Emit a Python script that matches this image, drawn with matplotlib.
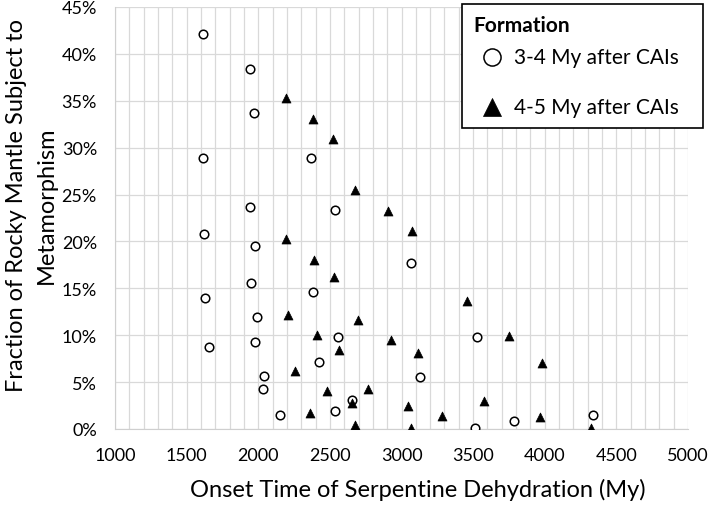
import matplotlib
matplotlib.use("Agg")
import matplotlib.pyplot as plt
from matplotlib.ticker import MultipleLocator, FuncFormatter

plt.rcParams["font.family"] = ["Lato", "DejaVu Sans"]

# 3-4 My after CAIs (onset time in My, fraction in %)
early_time = [1612, 1940, 1973, 1617, 2370, 1942, 2534, 1619, 1975, 3066,
              1952, 2380, 1631, 1994, 2559, 1977, 1659, 2422, 2040, 2035,
              2654, 2538, 2154, 3525, 3132, 3786, 4339, 3513]
early_frac = [42.15, 38.4, 33.7, 28.9, 28.9, 23.7, 23.3, 20.75, 19.55, 17.7,
              15.6, 14.6, 14.0, 11.9, 9.85, 9.3, 8.7, 7.15, 5.7, 4.3,
              3.05, 1.9, 1.5, 9.85, 5.5, 0.85, 1.5, 0.15]

# 4-5 My after CAIs
late_time = [2192, 2380, 2524, 2673, 2903, 2194, 3076, 2387, 2529, 2210,
             2694, 2413, 2929, 2564, 2259, 2480, 2766, 2657, 2359, 2678,
             3455, 3753, 3118, 3983, 3578, 3048, 3280, 3964, 3064, 4321]
late_frac = [35.3, 33.1, 30.9, 25.45, 23.2, 20.3, 21.1, 18.0, 16.2, 12.15,
             11.6, 10.0, 9.5, 8.4, 6.15, 4.1, 4.27, 2.8, 1.75, 0.4,
             13.6, 9.95, 8.1, 7.05, 2.95, 2.5, 1.35, 1.3, 0.15, 0.15]

fig = plt.figure(figsize=(7.09, 5.06), dpi=100)
ax = fig.add_axes([0.1622, 0.1502, 0.8082, 0.834])

ax.scatter(early_time, early_frac, s=38, marker="o", facecolor="white",
           edgecolor="black", linewidth=1.1, zorder=3, label="3-4 My after CAIs")
ax.scatter(late_time, late_frac, s=42, marker="^", facecolor="black",
           edgecolor="black", linewidth=0.5, zorder=3, label="4-5 My after CAIs")

ax.set_xlim(1000, 5000)
ax.set_ylim(0, 45)
ax.xaxis.set_major_locator(MultipleLocator(500))
ax.xaxis.set_minor_locator(MultipleLocator(100))
ax.yaxis.set_major_locator(MultipleLocator(5))
ax.yaxis.set_major_formatter(FuncFormatter(lambda v, p: f"{v:.0f}%"))

ax.grid(True, which="both", axis="x", color="#d9d9d9", linewidth=0.9)
ax.grid(True, which="major", axis="y", color="#d9d9d9", linewidth=0.9)
ax.set_axisbelow(True)
for side in ["top", "right"]:
    ax.spines[side].set_visible(False)
for side in ["left", "bottom"]:
    ax.spines[side].set_color("#cfcfcf")
ax.tick_params(which="both", length=0, labelsize=13, pad=13)

ax.set_xlabel("Onset Time of Serpentine Dehydration (My)", fontsize=17, labelpad=11)
ax.xaxis.label.set_x(0.529)
ax.set_ylabel("Fraction of Rocky Mantle Subject to\nMetamorphism", fontsize=17,
              linespacing=1.55)
ax.yaxis.label.set_va("center")
ax.yaxis.set_label_coords(-0.146, 0.533)

leg = ax.legend(title="Formation", loc="upper left", mode="expand",
                bbox_to_anchor=(461.7 / 709, 0.0, 241.0 / 709, 1 - 5 / 506),
                bbox_transform=fig.transFigure, borderaxespad=0,
                fontsize=15, title_fontsize=15, frameon=True, fancybox=False,
                edgecolor="black", labelspacing=1.45, handlelength=1.8,
                handletextpad=0.15, borderpad=0.55, markerscale=2.0,
                alignment="left")
leg.get_title().set_fontweight("bold")
leg.get_frame().set_linewidth(1.2)
leg.get_frame().set_alpha(1)
leg._legend_box.sep = 8

fig.savefig("out.png", dpi=100)
